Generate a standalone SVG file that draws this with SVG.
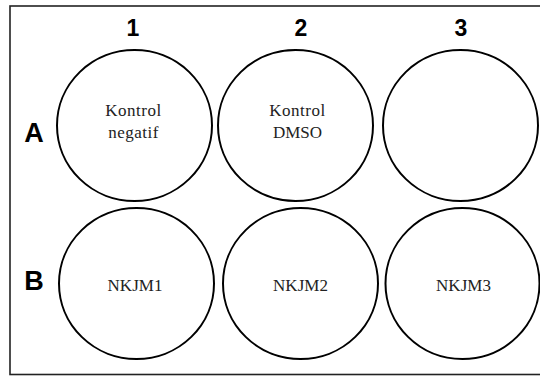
<svg xmlns="http://www.w3.org/2000/svg" width="540" height="376" viewBox="0 0 540 376">
<style>
.well{fill:#fff;stroke:#000;stroke-width:2}
.lbl{font-family:"Liberation Sans",Arial,sans-serif;font-weight:bold;font-size:23px;fill:#000;text-anchor:middle}
.rl{font-size:27px}
.t{font-family:"Liberation Serif","Times New Roman",serif;font-size:17px;fill:#222;text-anchor:middle}
</style>
<rect x="10" y="6" width="540" height="368.5" fill="#fff" stroke="#222" stroke-width="1.6"/>
<g id="labels">
<text class="lbl" x="133" y="36">1</text>
<text class="lbl" x="301" y="36">2</text>
<text class="lbl" x="461" y="36">3</text>
<text class="lbl rl" x="34" y="142">A</text>
<text class="lbl rl" x="34" y="290">B</text>
</g>
<g id="A1"><ellipse class="well" cx="134.5" cy="125.5" rx="77.5" ry="75.5"/><text class="t" x="133.5" y="116" letter-spacing="0.5">Kontrol</text><text class="t" x="133.5" y="138" letter-spacing="0.5">negatif</text></g>
<g id="A2"><ellipse class="well" cx="295.5" cy="125.5" rx="77.5" ry="75.5"/><text class="t" x="297.5" y="116" letter-spacing="0.5">Kontrol</text><text class="t" x="297.5" y="138">DMSO</text></g>
<g id="A3"><ellipse class="well" cx="460.5" cy="125.5" rx="77.5" ry="75.5"/></g>
<g id="B1"><ellipse class="well" cx="136.5" cy="283.5" rx="77.5" ry="75.5"/><text class="t" x="135" y="291">NKJM1</text></g>
<g id="B2"><ellipse class="well" cx="300.5" cy="283.5" rx="77.5" ry="75.5"/><text class="t" x="300.5" y="291">NKJM2</text></g>
<g id="B3"><ellipse class="well" cx="462.5" cy="283.5" rx="77" ry="75.5"/><text class="t" x="463.5" y="291">NKJM3</text></g>
<g id="connectors"/>
</svg>
